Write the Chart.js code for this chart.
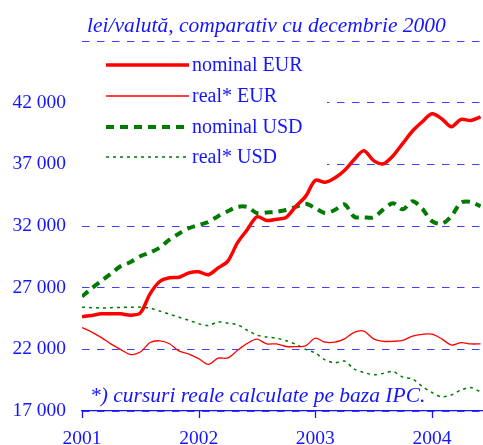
<!DOCTYPE html>
<html><head><meta charset="utf-8">
<script src="https://cdn.jsdelivr.net/npm/chart.js@4/dist/chart.umd.min.js"></script>
<style>html,body{margin:0;padding:0;background:#fff}#wrap{width:483px;height:445px}</style>
</head><body><div id="wrap"><canvas id="c" width="483" height="445"></canvas></div>
<script>
const titleText = 'lei/valută, comparativ cu decembrie 2000';
const footnote = '*) cursuri reale calculate pe baza IPC.';
const startYear = 2001;
const xTicks = [0, 12, 24, 36];
const yTicks = [17000, 22000, 27000, 32000, 37000, 42000, 47000];
const seriesLabels = ['nominal EUR', 'real* EUR', 'nominal USD', 'real* USD'];
const nominalEUR = [24650,24750,24880,24880,24880,24760,24950,26500,27500,27800,27850,28200,
  28290,28050,28600,29150,30650,31700,32750,32450,32550,32700,33600,34400,
  35700,35550,35900,36500,37400,38100,37300,37050,37700,38700,39700,40450,
  41100,40700,40050,40650,40550,40850];
const realEUR = [23770,23400,22950,22420,21980,21580,21780,22550,22690,22450,21850,21620,
  21250,20780,21280,21300,21920,22480,22820,22440,22440,22230,22220,22280,
  22900,22580,22580,22850,23380,23480,22850,22650,22650,22720,23080,23220,
  23230,22850,22350,22540,22440,22440];
const nominalUSD = [26280,26950,27550,28150,28750,29080,29550,29850,30250,30900,31400,31820,
  32080,32330,32800,33200,33550,33550,33050,33100,33150,33300,33550,33800,
  33450,33050,33300,33750,32750,32700,32700,33350,33850,33350,34000,33400,
  32400,32180,32800,33900,33950,33600];
const realUSD = [25420,25380,25350,25380,25400,25410,25420,25350,25100,24850,24600,24350,
  24080,23930,24220,24120,24000,23550,23150,23000,22900,22700,22400,22000,
  21700,21150,20900,21050,20400,20120,19950,20050,20200,19750,19600,19000,
  18500,18150,18300,18700,18900,18550];

const BLUE = '#1414ff';
const SERIF = '"Liberation Serif", "Times New Roman", serif';
const pts = arr => arr.map((v, i) => ({x: i, y: v}));

const overlay = {
  id: 'overlay',
  beforeDatasetsDraw(chart) {
    const ctx = chart.ctx;
    ctx.save();
    ctx.fillStyle = '#fff';
    ctx.fillRect(80, 50, 247, 125);
    const rows = [65, 96, 127, 157];
    chart.data.datasets.forEach((ds, k) => {
      const y = rows[k];
      ctx.beginPath();
      ctx.strokeStyle = ds.borderColor;
      ctx.lineWidth = ds.borderWidth;
      ctx.setLineDash(ds.borderDash || []);
      ctx.moveTo(106, y); ctx.lineTo(189, y);
      ctx.stroke();
      ctx.setLineDash([]);
      ctx.fillStyle = BLUE;
      ctx.font = '20px ' + SERIF;
      ctx.textBaseline = 'middle';
      ctx.textAlign = 'left';
      ctx.fillText(ds.label, 192, y + 1);
    });
    ctx.restore();
  },
  afterDraw(chart) {
    const ctx = chart.ctx;
    const xs = chart.scales.x, ys = chart.scales.y;
    ctx.save();
    ctx.strokeStyle = BLUE;
    ctx.lineWidth = 1.3;
    xTicks.forEach(v => {
      const px = Math.round(xs.getPixelForValue(v)) + 0.5;
      ctx.beginPath();
      ctx.moveTo(px, ys.bottom);
      ctx.lineTo(px, ys.bottom + 7);
      ctx.stroke();
    });
    ctx.fillStyle = BLUE;
    ctx.font = 'italic 21.5px ' + SERIF;
    ctx.textBaseline = 'alphabetic';
    ctx.textAlign = 'left';
    ctx.fillText(titleText, 87, 32);
    ctx.fillText(footnote, 90, 402);
    ctx.restore();
  }
};

new Chart(document.getElementById('c'), {
  type: 'line',
  data: {
    datasets: [
      {label: seriesLabels[0], data: pts(nominalEUR), borderColor: '#ff0000', borderWidth: 3.5, tension: 0.3},
      {label: seriesLabels[1], data: pts(realEUR), borderColor: '#ff0000', borderWidth: 1.3, tension: 0.3},
      {label: seriesLabels[2], data: pts(nominalUSD), borderColor: '#007a00', borderWidth: 4, borderDash: [8, 6], tension: 0.3},
      {label: seriesLabels[3], data: pts(realUSD), borderColor: '#007a00', borderWidth: 1.5, borderDash: [3, 4], tension: 0.3}
    ]
  },
  options: {
    responsive: false,
    animation: false,
    devicePixelRatio: 1,
    layout: {padding: {top: 41, right: 0, left: 0, bottom: 0}},
    elements: {point: {radius: 0}},
    plugins: {legend: {display: false}, title: {display: false}, tooltip: {enabled: false}},
    scales: {
      x: {
        type: 'linear', min: 0, max: 41.25,
        afterBuildTicks: s => { s.ticks = xTicks.map(v => ({value: v})); },
        ticks: {
          autoSkip: false, color: BLUE, font: {family: SERIF, size: 19.5}, padding: 8, maxRotation: 0,
          callback: v => String(startYear + v / 12)
        },
        grid: {display: false},
        border: {display: true, color: BLUE, width: 1.3},
        afterFit: s => { s.height = 34; }
      },
      y: {
        min: yTicks[0], max: yTicks[yTicks.length - 1],
        afterBuildTicks: s => { s.ticks = yTicks.map(v => ({value: v})); },
        ticks: {
          color: BLUE, font: {family: SERIF, size: 19.5}, padding: 16,
          callback: v => (v === yTicks[yTicks.length - 1] ? '' : (v / 1000) + ' 000')
        },
        grid: {color: '#4040ff', lineWidth: 1, drawTicks: false},
        border: {display: false, dash: [7.5, 7.5]},
        afterFit: s => { s.width = 82; }
      }
    }
  },
  plugins: [overlay]
});
</script></body></html>
